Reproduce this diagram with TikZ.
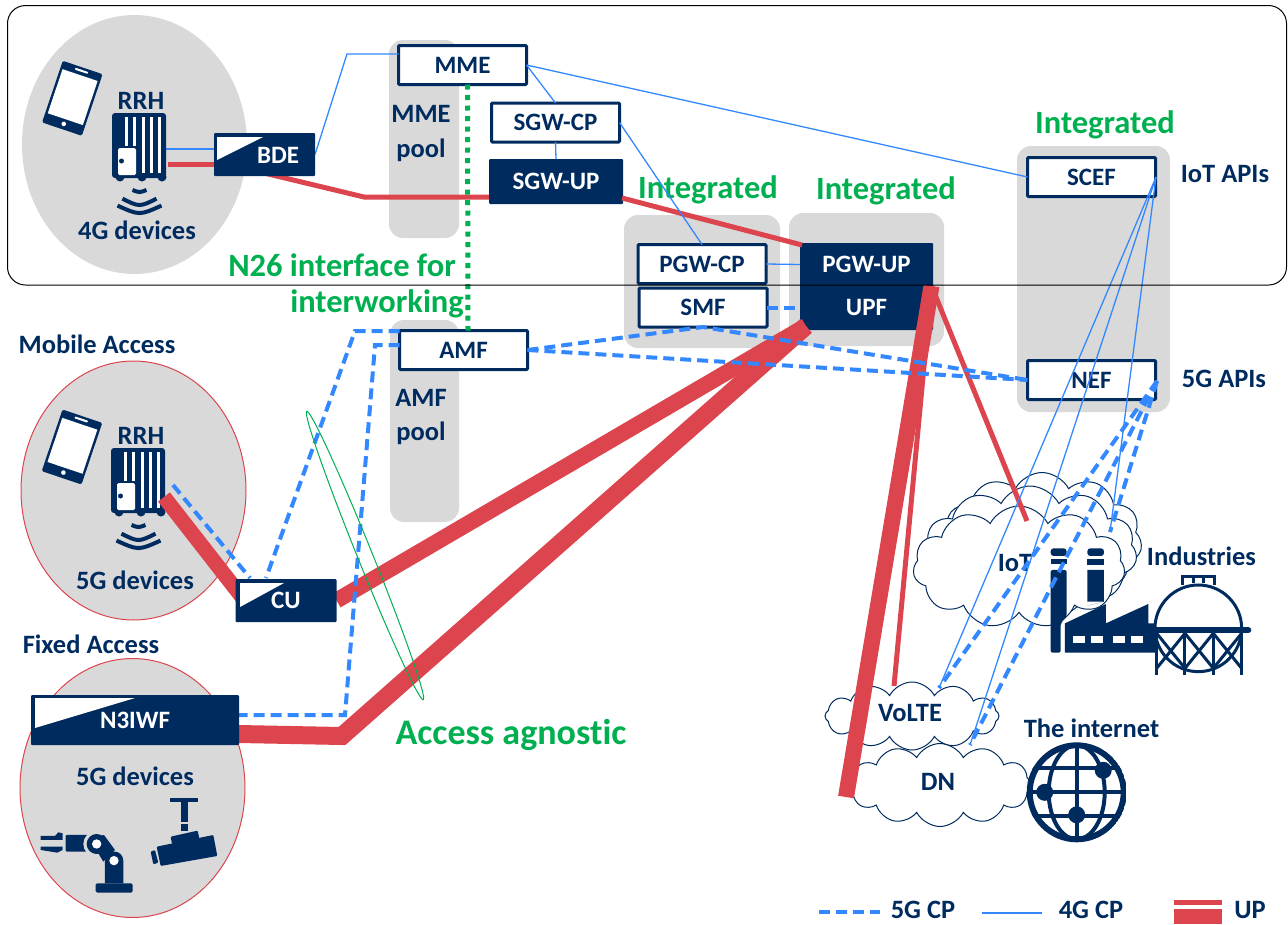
\documentclass[tikz,border=0pt]{standalone}
\usepackage{fontspec}
\setmainfont{Carlito}[Ligatures=NoCommon]
\usetikzlibrary{shapes.geometric,shapes.symbols}
\definecolor{navy}{HTML}{002B5F}
\definecolor{poolgray}{HTML}{D9D9D9}
\definecolor{upred}{HTML}{DC444E}
\definecolor{cpblue}{HTML}{3388FF}
\definecolor{agreen}{HTML}{00B050}
\pgfdeclarelayer{upper}
\pgfsetlayers{main,upper}
\tikzset{
  lab/.style={font=\fontsize{26.5}{30}\selectfont\bfseries,text=navy,inner sep=0pt,align=center},
  boxlab/.style={lab,font=\fontsize{25}{29}\selectfont\bfseries},
  greenlab/.style={font=\fontsize{32.5}{37}\selectfont\bfseries,text=agreen,inner sep=0pt,align=center},
  whitebox/.style={boxlab,draw=navy,line width=3pt,fill=white,minimum width=128pt,minimum height=39pt,outer sep=0pt,rounded corners=1pt},
  darkbox/.style={boxlab,text=white,fill=navy,outer sep=0pt,rounded corners=1pt},
  pool/.style={fill=poolgray,rounded corners=14pt},
  devarea/.style={ellipse,fill=poolgray,minimum width=225pt,minimum height=259pt,inner sep=0pt,outer sep=0pt},
  cloudy/.style={cloud,draw=navy,fill=white,line width=1pt,cloud puffs=#1,cloud puff arc=125,inner sep=0pt},
  cpfive/.style={draw=cpblue,line width=4pt,dash pattern=on 11pt off 6pt},
  cpfour/.style={draw=cpblue,line width=1.3pt},
  up/.style={draw=upred,line width=#1},
  icon/.style={fill=navy,draw=none},
  pics/tabletpic/.style={code={
    \fill[icon,rounded corners=1.5pt] (-21,-32.5) rectangle (21,32.5);
    \fill[white] (-18.5,-24.5) rectangle (18.5,22);
    \fill[white,rounded corners=1pt] (-7,-30) rectangle (7,-28);
    \fill[white] (0,27) circle[radius=2.3pt];
  }},
  pics/rrhpic/.style={code={
    \fill[icon,rounded corners=3pt] (0,0) rectangle (54,65);
    \foreach \px in {8,30,50} \fill[icon] (\px,64) circle[radius=4.5pt];
    \foreach \px in {14,22} \fill[white] (\px-1.5,3.5) rectangle (\px+1.5,33);
    \foreach \px in {31,39,47} \fill[white] (\px-1.5,3.5) rectangle (\px+1.5,60);
    \fill[white,rounded corners=1.5pt] (6,35) rectangle (24,62);
    \fill[icon] (9.5,48) circle[radius=2.5pt];
    \draw[navy,line width=4pt] (20.5,77) .. controls (27.5,79.7) .. (34.5,77);
    \draw[navy,line width=4pt] (10.5,85.7) .. controls (27.5,94.1) .. (44.5,85.7);
    \draw[navy,line width=4pt] (5.5,92.6) .. controls (27.5,102.5) .. (49.5,92.6);
  }}
}
\begin{document}
\begin{tikzpicture}[x=1pt,y=-1pt]
  \useasboundingbox (0,0) rectangle (1288,924);
  % grey areas
  \node[devarea] (area4g) at (134.5,144.5) {};
  \node[devarea,draw=upred,line width=1pt] (areamobile) at (133.5,490.5) {};
  \node[devarea,draw=upred,line width=1pt] (areafixed) at (132.5,788) {};
  \fill[pool] (389,40) rectangle (459,238);
  \fill[pool] (390,320) rectangle (459,522);
  \fill[pool] (624,215) rectangle (780,348);
  \fill[pool] (789,213) rectangle (944,346);
  \fill[pool] (1017,146) rectangle (1170,412);
  % clouds
  \node[cloudy=11,aspect=1.5,minimum width=200pt,minimum height=135pt] (iotback) at (1042,540) {};
  \node[cloudy=11,aspect=1.6,minimum width=214pt,minimum height=132pt] (iotmid) at (1030,552) {};
  \node[cloudy=11,aspect=1.7,minimum width=212pt,minimum height=122pt] (iotfront) at (1019,567) {};
  \node[cloudy=12,aspect=2.6,minimum width=183pt,minimum height=83pt] (dncloud) at (940,785) {};
  \node[cloudy=12,aspect=2.6,minimum width=174pt,minimum height=68pt] (voltecloud) at (912,716) {};
  % control and user plane functions
  \node[whitebox] (mme) at (462.5,65) {MME};
  \node[whitebox] (sgwcp) at (555.5,122.5) {SGW-CP};
  \node[darkbox,minimum width=134pt,minimum height=45pt] (sgwup) at (556,181.5) {SGW-UP};
  \node[whitebox] (pgwcp) at (702,264) {PGW-CP};
  \node[whitebox] (smf) at (703,307.5) {SMF};
  \node[darkbox,minimum width=133pt,minimum height=43pt] (pgwup) at (866.5,264.5) {PGW-UP};
  \node[darkbox,minimum width=133pt,minimum height=45pt] (upf) at (866.5,307.5) {UPF};
  \node[whitebox] (scef) at (1091.5,177) {SCEF};
  \node[whitebox] (nef) at (1091.5,380) {NEF};
  \node[whitebox] (amf) at (463.5,350) {AMF};
  \begin{pgfonlayer}{upper}
    \node[darkbox,minimum width=101pt,minimum height=43pt] (bde) at (264.5,154.5) {};
    \fill[white] (217,137) -- (263,137) -- (217,160) -- cycle;
    \node[boxlab,text=white] (bdetext) at (278,155) {BDE};
    \node[darkbox,minimum width=101pt,minimum height=43pt] (cu) at (286,600.5) {CU};
    \fill[white] (240,583) -- (284,583) -- (240,607) -- cycle;
    \node[darkbox,minimum width=208pt,minimum height=50pt] (niwf) at (135,720) {N3IWF};
    \fill[white] (35,698) -- (135,698) -- (35,728) -- cycle;
  \end{pgfonlayer}
  % labels
  \node[lab] (rrhtop) at (141,101) {RRH};
  \node[lab] (rrhlow) at (141,436) {RRH};
  \node[lab] (dev4g) at (137,230) {4G devices};
  \node[lab] (devmobile) at (135,580) {5G devices};
  \node[lab] (devfixed) at (135,776) {5G devices};
  \node[lab] (mobile) at (97,344) {Mobile Access};
  \node[lab] (fixed) at (91,644) {Fixed Access};
  \node[lab] (mmepool) at (421,133) {MME\\[5pt]pool};
  \node[lab] (amfpool) at (421,417) {AMF\\[4pt]pool};
  \node[lab] (iotapis) at (1225,174) {IoT APIs};
  \node[lab] (apisfive) at (1224,379) {5G APIs};
  \node[greenlab] (intscef) at (1105,125) {Integrated};
  \node[greenlab] (intsmf) at (708,190) {Integrated};
  \node[greenlab] (intupf) at (886,191) {Integrated};
  \node[greenlab,anchor=east] (nifa) at (456,265) {N26 interface for};
  \node[greenlab,anchor=east] (nifb) at (464,304) {interworking};
  \node[greenlab,font=\fontsize{36}{41}\selectfont\bfseries] (agnostic) at (511,735) {Access agnostic};
  \node[lab] (iot) at (1015,563) {IoT};
  \node[lab] (industries) at (1201.5,556) {Industries};
  \node[lab] (internet) at (1091.5,728) {The internet};
  \node[lab] (volte) at (910,713) {VoLTE};
  \node[lab] (dn) at (938,782) {DN};
  % devices
  \pic[rotate=-18.6] at (72.3,98.3) {tabletpic};
  \pic[rotate=-18.6] at (72,447) {tabletpic};
  \pic at (112,113) {rrhpic};
  \pic at (111,448) {rrhpic};
  % robot arm and camera
  \begin{scope}[shift={(0,620)},x=0.3333pt,y=-0.3333pt]
    \fill[icon] (122,648) -- (165,648) -- (175,637) -- (188,640) -- (188,660) -- (122,660) -- cycle;
    \fill[icon] (122,680) -- (188,680) -- (188,690) -- (172,698) -- (122,690) -- cycle;
    \fill[icon,rounded corners=1pt] (197,645) rectangle (265,695);
    \fill[poolgray] (288,672) circle[radius=38];
    \fill[icon] (290,672) circle[radius=30];
    \fill[icon] (268,655) -- (312,645) -- (345,690) -- (310,725) -- cycle;
    \fill[white] (290,672) circle[radius=14];
    \fill[icon] (315,790) -- (315,722) arc[start angle=180,end angle=0,x radius=27.5,y radius=-27.5] -- (370,790) -- cycle;
    \fill[white] (342,722) circle[radius=14];
    \fill[icon,rounded corners=1.5pt] (287,790) rectangle (398,818);
    \fill[icon] (510,535) rectangle (595,547);
    \fill[icon] (543,547) rectangle (565,605);
    \fill[icon] (543,613) rectangle (565,632);
    \fill[icon,rounded corners=1pt] (470,680) -- (640,645) -- (652,708) -- (482,738) -- cycle;
    \fill[icon,rounded corners=1pt] (512,650) -- (593,632) -- (598,655) -- (516,672) -- cycle;
    \fill[icon,rounded corners=1pt] (452,695) -- (465,690) -- (475,728) -- (460,733) -- cycle;
  \end{scope}
  % factory and tank
  \begin{scope}[shift={(820,460)},x=0.3333pt,y=-0.3333pt]
    \fill[icon,rounded corners=3pt] (692,288) -- (692,265) -- (740,265) -- (740,288) -- cycle;
    \fill[icon] (692,298) rectangle (740,312);
    \fill[icon,rounded corners=2pt] (692,330) -- (740,330) -- (740,470) -- (722,490) -- (722,578) -- (692,578) -- cycle;
    \fill[icon,rounded corners=3pt] (802,288) -- (802,265) -- (852,265) -- (852,288) -- cycle;
    \fill[icon] (802,298) rectangle (852,315);
    \fill[icon] (802,330) rectangle (852,425) -- (802,437) -- cycle;
    \fill[icon] (735,490) -- (858,432) -- (858,490) -- (985,432) -- (985,490) -- (1010,490) -- (1010,578) -- (735,578) -- cycle;
    \foreach \wx in {758,812,880,933} \fill[white] (\wx,528) rectangle (\wx+36,548);
    \draw[navy,line width=3pt,fill=white] (1135,505) circle[radius=130];
    \draw[navy,line width=3pt] (1087,375) -- (1087,350) -- (1185,350) -- (1185,375)
      (1122,350) -- (1122,368) (1150,350) -- (1150,368);
    \draw[navy,line width=6pt,line cap=round] (1005,511) -- (1285,511);
    \foreach \lx in {1010,1095,1180,1265} \draw[navy,line width=3pt] (\lx,511) -- (\lx,645);
    \foreach \lx in {1010,1095,1180} {
      \draw[navy,line width=3pt] (\lx,625) -- (\lx+85,520) (\lx,520) -- (\lx+85,625);
    }
  \end{scope}
  % globe
  \begin{scope}[shift={(1076.7,792.3)}]
    \clip (0,0) circle[radius=50];
    \draw[navy,line width=6pt] (0,0) circle[radius=47];
    \draw[navy,line width=4pt] (0,0) ellipse[x radius=28,y radius=47];
    \draw[navy,line width=4pt] (0,-47) -- (0,47) (-47,0) -- (47,0) (-47,-24) -- (47,-24) (-47,24) -- (47,24);
    \fill[icon] (-32,0) circle[radius=8.5pt];
    \fill[icon] (26.5,-22) circle[radius=8.5pt];
    \fill[icon] (0,22.5) circle[radius=8.5pt];
  \end{scope}
  % free ends and bends of the connectors
  \coordinate (bdebend) at (347,54);
  \coordinate (bdeout) at (264,173);
  \coordinate (linkbend) at (364,197);
  \coordinate (sgwout) at (622,198);
  \coordinate (pgwin) at (802,245);
  \coordinate (rrhfourb) at (166,149);
  \coordinate (rrhfourr) at (168,164);
  \coordinate (rrhfived) at (173,485);
  \coordinate (rrhfiver) at (164,497);
  \coordinate (cuinred) at (242,597);
  \coordinate (cuindash) at (250,578);
  \coordinate (cutop) at (266,578);
  \coordinate (upfjoin) at (806,326);
  \coordinate (upftop) at (931.5,286);
  \coordinate (niwfbend) at (342,736);
  \coordinate (dnend) at (846,797);
  \coordinate (volteend) at (894,686);
  \coordinate (iotend) at (1027,521);
  \coordinate (amftop) at (355,331);
  \coordinate (amflow) at (375,345);
  \coordinate (niwfblue) at (345,715);
  \coordinate (smfbot) at (703,327);
  \coordinate (scefout) at (1156,177);
  \coordinate (nefout) at (1157,381);
  \coordinate (voltecp) at (939,688);
  \coordinate (dncp) at (970,745);
  \coordinate (indcp) at (1110,532);
  % user plane
  \draw[up=5pt] (rrhfourr) -- (rrhfourr -| bde.west);
  \draw[up=5pt] (bdeout) -- (linkbend) -- (sgwup.west |- linkbend);
  \draw[up=5pt] (sgwout) -- (pgwin);
  \draw[up=15pt] (rrhfiver) -- (cuinred);
  \draw[up=16pt] (cu.east) -- (upfjoin);
  \draw[up=18pt] (niwf.east |- 0,734) -- (niwfbend) -- (upfjoin);
  \draw[up=16pt] (upftop) -- (dnend);
  \draw[up=5pt] (upftop) -- (volteend);
  \draw[up=5pt] (upftop) -- (iotend);
  % 4G control plane
  \draw[cpfour] (rrhfourb) -- (rrhfourb -| bde.west);
  \draw[cpfour] (bde.east) -- (bdebend) -- (mme.west |- bdebend);
  \draw[cpfour] (mme.east) -- (sgwcp.north);
  \draw[cpfour] (sgwcp.south) -- (sgwup.north);
  \draw[cpfour] (mme.east) -- (scef.west);
  \draw[cpfour] (sgwcp.east) -- (pgwcp.north);
  \draw[cpfour] (pgwcp.east) -- (pgwup.west);
  \draw[cpfour] (scefout) -- (voltecp);
  \draw[cpfour] (scefout) -- (dncp);
  \draw[cpfour] (scefout) -- (indcp);
  % 5G control plane
  \draw[cpfive] (amf.west |- amftop) -- (amftop) -- (cutop);
  \draw[cpfive] (amf.west |- amflow) -- (amflow) -- (niwfblue) -- (niwf.east |- niwfblue);
  \draw[cpfive] (amf.east) -- (smfbot) -- (nef.west);
  \draw[cpfive] (amf.east) -- (nef.west);
  \draw[cpfive] (smf.east) -- (upf.west);
  \draw[cpfive] (rrhfived) -- (cuindash);
  \draw[cpfive] (nefout) -- (voltecp);
  \draw[cpfive] (nefout) -- (dncp);
  \draw[cpfive] (nefout) -- (indcp);
  % interworking and agnostic access
  \draw[agreen,line width=5pt,dash pattern=on 5pt off 5.5pt] ([xshift=5pt]mme.south) -- ([xshift=4.5pt]amf.north);
  \node[ellipse,draw=agreen,line width=1pt,rotate=-68,minimum width=311pt,minimum height=15pt,inner sep=0pt] (agnring) at (365,555.5) {};
  % frame of the 4G network
  \draw[black,line width=1pt,rounded corners=18pt] (7.5,5.5) rectangle (1286.5,285);
  % legend
  \coordinate (legfivea) at (819,912);
  \coordinate (legfiveb) at (880,912);
  \coordinate (legfoura) at (982,913);
  \coordinate (legfourb) at (1042,913);
  \node[lab] (legfive) at (923,910) {5G CP};
  \node[lab] (legfour) at (1091,910) {4G CP};
  \node[lab] (legup) at (1250,910) {UP};
  \draw[cpfive] (legfivea) -- (legfiveb);
  \draw[cpfour] (legfoura) -- (legfourb);
  \fill[upred] (1174,900) rectangle (1222,905);
  \fill[upred] (1174,909) rectangle (1222,924);
\end{tikzpicture}
\end{document}
